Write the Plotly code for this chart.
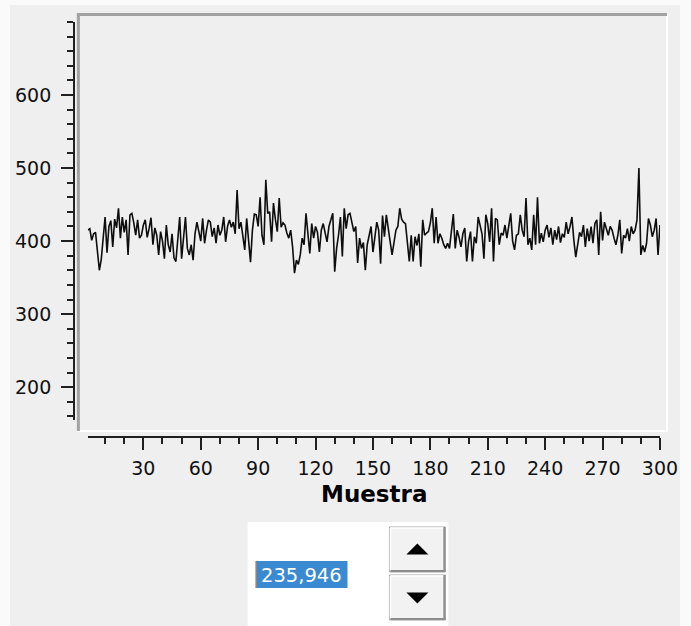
import plotly.graph_objects as go

# ---------------- data ----------------
seg_a = [415, 417, 401, 410, 412, 390, 360, 375, 405, 433, 384, 420, 428, 392, 430, 418, 445, 404, 433, 412,
         429, 381, 436, 438, 425, 408, 429, 404, 408, 422, 429, 405, 417, 432, 395, 418, 408, 381, 413, 400,
         376, 422, 395, 385, 410, 377, 372, 400, 433]
seg_b = [376, 405, 433, 390, 381, 395, 374, 410, 426, 413, 400, 431, 397, 415, 429, 426, 406, 418, 397, 422,
         408, 415, 433, 399, 420, 429, 419, 426, 410, 470, 417, 426, 405, 388, 431, 395, 371, 415, 437, 436,
         420, 460, 408, 395, 484, 438, 440, 399, 452, 430, 413]
seg_c = [459, 419, 425, 422, 411, 404, 415, 392, 356, 374, 368, 381, 404, 395, 438, 413, 383, 424, 404, 420,
         412, 385, 415, 424, 410, 399, 420, 429, 438, 358, 390, 408, 433, 379, 445, 417, 436, 438, 427, 413,
         420, 370, 404, 390, 398, 360, 395, 408, 420, 385]
seg_d = [404, 426, 415, 369, 435, 406, 436, 420, 399, 381, 399, 415, 420, 445, 430, 426, 424, 399, 372, 408,
         372, 406, 394, 410, 365, 429, 408, 411, 413, 425, 445, 397, 433, 397, 410, 404, 395, 390, 397, 390,
         410, 437, 390, 415, 405, 392, 410, 418, 372, 400]
seg_e = [413, 372, 406, 397, 433, 422, 410, 376, 436, 424, 399, 445, 372, 431, 429, 395, 411, 408, 422, 404,
         420, 438, 400, 388, 408, 410, 436, 415, 406, 459, 395, 404, 388, 436, 395, 460, 397, 411, 399, 415,
         422, 405, 418, 395, 415, 402, 420, 398, 410, 405]
seg_f = [426, 410, 420, 433, 401, 378, 395, 412, 406, 422, 392, 417, 400, 420, 397, 424, 429, 381, 440, 401,
         426, 415, 408, 420, 415, 404, 395, 408, 429, 383, 408, 404, 417, 400, 420, 410, 415, 429, 500, 381,
         394, 385, 397, 431, 422, 406, 415, 431, 381, 422]
values = seg_a + seg_b + seg_c + seg_d + seg_e + seg_f
samples = list(range(1, len(values) + 1))

x_ticks = [30, 60, 90, 120, 150, 180, 210, 240, 270, 300]
y_ticks = [200, 300, 400, 500, 600]
x_title = "Muestra"
spin_text = "235,946"

# ---------------- layout helpers ----------------
W, H = 708, 626          # layout width (photo comes out 691 px wide)
REF_W = 691
def px(x):
    return x / REF_W
def py(y):
    return 1 - y / H

FONT = "DejaVu Sans"
INK = "#111111"
BG = "#efefef"
AX = "#202020"

fig = go.Figure()
fig.add_trace(go.Scatter(x=samples, y=values, mode="lines",
                         line=dict(color="#0d0d0d", width=1.6), showlegend=False,
                         hoverinfo="skip"))

shapes = []
shapes.append(dict(type="rect", xref="paper", yref="paper", x0=px(10), x1=px(681), y0=py(5), y1=py(626),
                   fillcolor=BG, line=dict(width=0), layer="below"))
shapes.append(dict(type="line", xref="paper", yref="paper", x0=px(668), x1=px(668), y0=py(14), y1=py(431),
                   line=dict(color="#ffffff", width=2)))
shapes.append(dict(type="line", xref="paper", yref="paper", x0=px(77), x1=px(669), y0=py(431), y1=py(431),
                   line=dict(color="#ffffff", width=2)))
shapes.append(dict(type="line", xref="paper", yref="paper", x0=px(77), x1=px(668), y0=py(14.5), y1=py(14.5),
                   line=dict(color="#a2a2a2", width=3)))
shapes.append(dict(type="line", xref="paper", yref="paper", x0=px(78.5), x1=px(78.5), y0=py(13), y1=py(431),
                   line=dict(color="#a2a2a2", width=3)))
shapes.append(dict(type="rect", xref="paper", yref="paper", x0=px(248), x1=px(449), y0=py(522), y1=py(626),
                   fillcolor="#ffffff", line=dict(width=0)))
for (y0, y1, tri) in [(527, 572, "up"), (575, 620, "down")]:
    shapes.append(dict(type="rect", xref="paper", yref="paper", x0=px(390), x1=px(446), y0=py(y0), y1=py(y1),
                       fillcolor="#f2f2f2", line=dict(color="#a8a8a8", width=1)))
    shapes.append(dict(type="line", xref="paper", yref="paper", x0=px(391), x1=px(445), y0=py(y0 + 1), y1=py(y0 + 1),
                       line=dict(color="#ffffff", width=1.5)))
    shapes.append(dict(type="line", xref="paper", yref="paper", x0=px(391), x1=px(391), y0=py(y0 + 1), y1=py(y1 - 1),
                       line=dict(color="#ffffff", width=1.5)))
    shapes.append(dict(type="line", xref="paper", yref="paper", x0=px(391), x1=px(446), y0=py(y1 - 1), y1=py(y1 - 1),
                       line=dict(color="#8c8c8c", width=2)))
    shapes.append(dict(type="line", xref="paper", yref="paper", x0=px(445), x1=px(445), y0=py(y0), y1=py(y1),
                       line=dict(color="#8c8c8c", width=2)))
    cx, cy = 418, (y0 + y1) / 2
    if tri == "up":
        pts = [(cx - 11, cy + 5), (cx + 11, cy + 5), (cx, cy - 6)]
    else:
        pts = [(cx - 11, cy - 5), (cx + 11, cy - 5), (cx, cy + 6)]
    path = "M " + " L ".join(f"{px(a):.5f},{py(b):.5f}" for a, b in pts) + " Z"
    shapes.append(dict(type="path", xref="paper", yref="paper", path=path,
                       fillcolor="#000000", line=dict(width=0)))
shapes.append(dict(type="rect", xref="paper", yref="paper", x0=px(256), x1=px(348), y0=py(561), y1=py(588),
                   fillcolor="#3a8ad2", line=dict(width=0)))
shapes.append(dict(type="line", xref="paper", yref="paper", x0=px(256.5), x1=px(256.5), y0=py(561), y1=py(588),
                   line=dict(color="#e07a30", width=1)))

annotations = [
    dict(text=f"<b>{x_title}</b>", xref="paper", yref="paper", x=px(374.5), y=py(494), showarrow=False,
         xanchor="center", yanchor="middle", font=dict(family=FONT, size=23, color="#000000")),
    dict(text=spin_text, xref="paper", yref="paper", x=px(302), y=py(575), showarrow=False,
         xanchor="center", yanchor="middle", font=dict(family=FONT, size=19.5, color="#ffffff")),
]

fig.update_layout(
    width=W, height=H, autosize=False,
    margin=dict(l=0, r=0, t=0, b=0),
    paper_bgcolor="#fafafa", plot_bgcolor="rgba(0,0,0,0)",
    shapes=shapes, annotations=annotations,
    xaxis=dict(domain=[px(88), px(661)], range=[1, 300.05], anchor="free", position=py(437),
               showgrid=False, zeroline=False, showline=True, linecolor=AX, linewidth=1.6,
               tickmode="array", tickvals=x_ticks, ticks="outside", ticklen=12, tickwidth=1.6,
               tickcolor=AX, tickfont=dict(family=FONT, size=19, color=INK), ticklabelstandoff=2,
               minor=dict(ticks="outside", ticklen=6, tickwidth=1.6, tickcolor=AX, dtick=10, tick0=0,
                          showgrid=False),
               fixedrange=True),
    yaxis=dict(domain=[py(420), py(22)], range=[155, 700], anchor="free", position=px(74),
               showgrid=False, zeroline=False, showline=True, linecolor=AX, linewidth=1.6,
               tickmode="array", tickvals=y_ticks, ticks="outside", ticklen=12, tickwidth=1.6,
               tickcolor=AX, tickfont=dict(family=FONT, size=19, color=INK), ticklabelstandoff=6,
               minor=dict(ticks="outside", ticklen=6, tickwidth=1.6, tickcolor=AX, dtick=20, tick0=0,
                          showgrid=False),
               fixedrange=True),
)

fig.write_html("out.html")
